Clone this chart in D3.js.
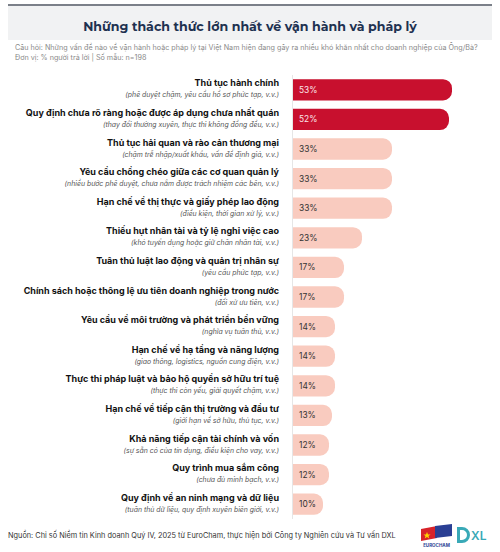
<!DOCTYPE html>
<html>
<head>
<meta charset="utf-8">
<script src="https://cdn.jsdelivr.net/npm/d3@7"></script>
<style>
  body { margin: 0; background: #fff; }
  svg { display: block; }
</style>
</head>
<body>
<div id="chart"></div>
<script>
// data
let labels = [
  "Thủ tục hành chính",
  "Quy định chưa rõ ràng hoặc được áp dụng chưa nhất quán",
  "Thủ tục hải quan và rào cản thương mại",
  "Yêu cầu chồng chéo giữa các cơ quan quản lý",
  "Hạn chế về thị thực và giấy phép lao động",
  "Thiếu hụt nhân tài và tỷ lệ nghỉ việc cao",
  "Tuân thủ luật lao động và quản trị nhân sự",
  "Chính sách hoặc thông lệ ưu tiên doanh nghiệp trong nước",
  "Yêu cầu về môi trường và phát triển bền vững",
  "Hạn chế về hạ tầng và năng lượng",
  "Thực thi pháp luật và bảo hộ quyền sở hữu trí tuệ",
  "Hạn chế về tiếp cận thị trường và đầu tư",
  "Khả năng tiếp cận tài chính và vốn",
  "Quy trình mua sắm công",
  "Quy định về an ninh mạng và dữ liệu"
];
let notes = [
  "(phê duyệt chậm, yêu cầu hồ sơ phức tạp, v.v.)",
  "(thay đổi thường xuyên, thực thi không đồng đều, v.v.)",
  "(chậm trễ nhập/xuất khẩu, vấn đề định giá, v.v.)",
  "(nhiều bước phê duyệt, chưa nắm được trách nhiệm các bên, v.v.)",
  "(điều kiện, thời gian xử lý, v.v.)",
  "(khó tuyển dụng hoặc giữ chân nhân tài, v.v.)",
  "(yêu cầu phức tạp, v.v.)",
  "(đối xử ưu tiên, v.v.)",
  "(nghĩa vụ tuân thủ, v.v.)",
  "(giao thông, logistics, nguồn cung điện, v.v.)",
  "(thực thi còn yếu, giải quyết chậm, v.v.)",
  "(giới hạn về sở hữu, thủ tục, v.v.)",
  "(sự sẵn có của tín dụng, điều kiện cho vay, v.v.)",
  "(chưa đủ minh bạch, v.v.)",
  "(tuân thủ dữ liệu, quy định xuyên biên giới, v.v.)"
];
let values = [53, 52, 33, 33, 33, 23, 17, 17, 14, 14, 14, 13, 12, 12, 10];
let topCount = 2; // highlighted bars

let width = 500, height = 552;
let font = "Inter, 'Open Sans', sans-serif";

let svg = d3.select("#chart")
    .append("svg")
    .attr("width", width)
    .attr("height", height);

// header
svg.append("rect")
    .attr("x", 8).attr("y", 4)
    .attr("width", 484).attr("height", 2)
    .attr("fill", "#7b8089");

svg.append("rect")
    .attr("x", 8).attr("y", 6)
    .attr("width", 484).attr("height", 34)
    .attr("fill", "#f1f2f3");

svg.append("text")
    .attr("x", width / 2).attr("y", 30.5)
    .attr("text-anchor", "middle")
    .style("font-family", "Montserrat, 'Open Sans', sans-serif")
    .style("font-weight", 700)
    .style("font-size", "12.6px")
    .attr("fill", "#1e3150")
    .text("Những thách thức lớn nhất về vận hành và pháp lý");

svg.append("text")
    .attr("x", 15).attr("y", 50)
    .style("font-family", font)
    .style("font-size", "7.2px")
    .attr("fill", "#8a8a8a")
    .text("Câu hỏi: Những vấn đề nào về vận hành hoặc pháp lý tại Việt Nam hiện đang gây ra nhiều khó khăn nhất cho doanh nghiệp của Ông/Bà?");

svg.append("text")
    .attr("x", 15).attr("y", 60)
    .style("font-family", font)
    .style("font-size", "7.2px")
    .attr("fill", "#8a8a8a")
    .text("Đơn vị: % người trả lời | Số mẫu: n=198");

// chart area
let x0 = 293, plotTop = 75, plotBottom = 519;

let x = d3.scaleLinear()
    .domain([0, 100])
    .range([x0, x0 + 300]);

let y = d3.scaleBand()
    .domain(labels)
    .range([plotTop, plotBottom])
    .paddingInner(0.28)
    .paddingOuter(0.14);

let g = svg.append("g");

// faint axis line
g.append("line")
    .attr("x1", x0 - 0.5).attr("x2", x0 - 0.5)
    .attr("y1", plotTop).attr("y2", plotBottom)
    .attr("stroke", "#e6e6e6")
    .attr("stroke-width", 1);

function barPath(d, i) {
    let x1 = x(0), x2 = x(values[i]);
    let y1 = y(labels[i]), h = y.bandwidth();
    let r = Math.min(h / 2, 9, x2 - x1);
    return `M${x1},${y1} H${x2 - r} A${r},${r} 0 0 1 ${x2},${y1 + r}`
        + ` V${y1 + h - r} A${r},${r} 0 0 1 ${x2 - r},${y1 + h} H${x1} Z`;
}

g.selectAll("path.bar")
    .data(values)
    .enter()
    .append("path")
    .attr("class", "bar")
    .attr("d", barPath)
    .attr("fill", function(d, i) { return i < topCount ? "#c8102e" : "#f9cbbf"; });

g.selectAll("text.val")
    .data(values)
    .enter()
    .append("text")
    .attr("class", "val")
    .attr("x", x(0) + 6)
    .attr("y", function(d, i) { return y(labels[i]) + y.bandwidth() / 2 + 3; })
    .style("font-family", font)
    .style("font-size", "8.4px")
    .attr("fill", function(d, i) { return i < topCount ? "#fbe4e7" : "#333"; })
    .text(function(d) { return d + "%"; });

g.selectAll("text.lab")
    .data(labels)
    .enter()
    .append("text")
    .attr("class", "lab")
    .attr("x", 279)
    .attr("y", function(d) { return y(d) + y.bandwidth() / 2 - 3.5; })
    .attr("text-anchor", "end")
    .style("font-family", font)
    .style("font-weight", 700)
    .style("font-size", "9px")
    .attr("fill", "#111")
    .text(function(d) { return d; });

g.selectAll("text.note")
    .data(notes)
    .enter()
    .append("text")
    .attr("class", "note")
    .attr("x", 279)
    .attr("y", function(d, i) { return y(labels[i]) + y.bandwidth() / 2 + 7.5; })
    .attr("text-anchor", "end")
    .style("font-family", font)
    .style("font-style", "italic")
    .style("font-size", "6.9px")
    .attr("fill", "#555")
    .text(function(d) { return d; });

// footer
svg.append("text")
    .attr("x", 8).attr("y", 538)
    .style("font-family", font)
    .style("font-size", "7.35px")
    .attr("fill", "#333")
    .text("Nguồn: Chỉ số Niềm tin Kinh doanh Quý IV, 2025 từ EuroCham, thực hiện bởi Công ty Nghiên cứu và Tư vấn DXL");

// EuroCham logo (rough)
let logo = svg.append("g").attr("transform", "translate(421,526)");
logo.append("path")
    .attr("d", "M0,3 L16,0 L16,12 L0,15 Z")
    .attr("fill", "#d8232a");
logo.append("path")
    .attr("d", "M14,0 L31,-2 L31,10 L14,12 Z")
    .attr("fill", "#2a3f94");
logo.append("path")
    .attr("d", "M6,6 l1,2.5 h2.6 l-2.1,1.5 0.8,2.5 -2.3,-1.5 -2.3,1.5 0.8,-2.5 -2.1,-1.5 h2.6 Z")
    .attr("fill", "#ffd400");
logo.append("text")
    .attr("x", 15.5).attr("y", 21)
    .attr("text-anchor", "middle")
    .style("font-family", font)
    .style("font-weight", 700)
    .style("font-size", "4.5px")
    .attr("fill", "#2a3f94")
    .text("EUROCHAM");

// DXL logo (rough)
let dxl = svg.append("g").attr("transform", "translate(457,527)");
dxl.append("path")
    .attr("d", "M0,0 H5 A8,8 0 0 1 5,16 H0 Z M3,3 V13 H5 A5,5 0 0 0 5,3 Z")
    .attr("fill", "#39a9b7")
    .attr("fill-rule", "evenodd");
dxl.append("text")
    .attr("x", 14).attr("y", 13)
    .style("font-family", font)
    .style("font-weight", 600)
    .style("font-size", "12px")
    .attr("fill", "#39a9b7")
    .text("XL");
</script>
</body>
</html>
